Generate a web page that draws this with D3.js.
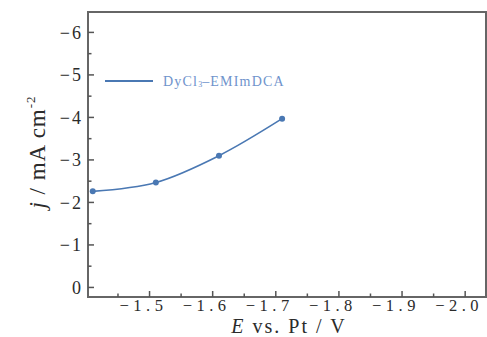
<!DOCTYPE html>
<html>
<head>
<meta charset="utf-8">
<script src="https://cdn.jsdelivr.net/npm/d3@7"></script>
<style>
  body { margin: 0; background: #fff; }
  text { font-family: "Liberation Serif", "DejaVu Serif", serif; fill: #2b2b2b; }
</style>
</head>
<body>
<div id="chart"></div>
<script>
// data
const potential = [-1.41, -1.51, -1.61, -1.71];
const currentDensity = [-2.26, -2.47, -3.10, -3.97];
const seriesName = "DyCl";
const xMajorTicks = [-1.5, -1.6, -1.7, -1.8, -1.9, -2.0];
const xMinorTicks = [-1.45, -1.55, -1.65, -1.75, -1.85, -1.95];
const yMajorTicks = [0, -1, -2, -3, -4, -5, -6];
const yMinorTicks = [-0.5, -1.5, -2.5, -3.5, -4.5, -5.5];

const width = 487, height = 337;
const margin = { left: 88, right: 1, top: 12, bottom: 40 };
const lineColor = "#4a78b3";
const minus = "\u2212";

const svg = d3.select("#chart")
  .append("svg")
    .attr("width", width)
    .attr("height", height);

const x = d3.scaleLinear([-1.4025, -2.033], [margin.left, width - margin.right]);
const y = d3.scaleLinear([0.225, -6.48], [height - margin.bottom, margin.top]);

// frame
svg.append("rect")
  .attr("x", margin.left)
  .attr("y", margin.top)
  .attr("width", width - margin.right - margin.left)
  .attr("height", height - margin.bottom - margin.top)
  .attr("fill", "none")
  .attr("stroke", "#666")
  .attr("stroke-width", 2);

// y ticks (inward)
const yTicks = svg.append("g").attr("class", "yTicks");
yTicks.selectAll("line.major")
  .data(yMajorTicks)
  .join("line")
    .attr("class", "major")
    .attr("x1", margin.left).attr("x2", margin.left + 6)
    .attr("y1", d => y(d)).attr("y2", d => y(d))
    .attr("stroke", "#555").attr("stroke-width", 1.5);
yTicks.selectAll("line.minor")
  .data(yMinorTicks)
  .join("line")
    .attr("class", "minor")
    .attr("x1", margin.left).attr("x2", margin.left + 3.5)
    .attr("y1", d => y(d)).attr("y2", d => y(d))
    .attr("stroke", "#555").attr("stroke-width", 1.5);
yTicks.selectAll("text")
  .data(yMajorTicks)
  .join("text")
    .attr("x", margin.left - 5)
    .attr("y", d => y(d))
    .attr("dy", "0.35em")
    .attr("text-anchor", "end")
    .attr("font-size", 18)
    .attr("letter-spacing", 2)
    .text(d => d === 0 ? "0" : minus + Math.abs(d));

// x ticks (inward)
const xTicks = svg.append("g").attr("class", "xTicks");
const y0 = height - margin.bottom;
xTicks.selectAll("line.major")
  .data(xMajorTicks)
  .join("line")
    .attr("class", "major")
    .attr("x1", d => x(d)).attr("x2", d => x(d))
    .attr("y1", y0).attr("y2", y0 - 6)
    .attr("stroke", "#555").attr("stroke-width", 1.5);
xTicks.selectAll("line.minor")
  .data(xMinorTicks)
  .join("line")
    .attr("class", "minor")
    .attr("x1", d => x(d)).attr("x2", d => x(d))
    .attr("y1", y0).attr("y2", y0 - 3.5)
    .attr("stroke", "#555").attr("stroke-width", 1.5);
xTicks.selectAll("text")
  .data(xMajorTicks)
  .join("text")
    .attr("x", d => x(d) - 6)
    .attr("y", y0 + 14)
    .attr("text-anchor", "middle")
    .attr("font-size", 16.5)
    .attr("letter-spacing", 4.5)
    .text(d => minus + Math.abs(d).toFixed(1));

// series
const points = d3.zip(potential, currentDensity);
const line = d3.line()
  .x(d => x(d[0]))
  .y(d => y(d[1]))
  .curve(d3.curveCatmullRom);

svg.append("path")
  .datum(points)
  .attr("d", line)
  .attr("fill", "none")
  .attr("stroke", lineColor)
  .attr("stroke-width", 1.6);

svg.append("g")
  .selectAll("circle")
  .data(points)
  .join("circle")
    .attr("cx", d => x(d[0]))
    .attr("cy", d => y(d[1]))
    .attr("r", 3)
    .attr("fill", lineColor);

// legend
const legend = svg.append("g").attr("transform", "translate(105, 81)");
legend.append("line")
  .attr("x1", 0).attr("x2", 48)
  .attr("stroke", lineColor)
  .attr("stroke-width", 1.8);
const lt = legend.append("text")
  .attr("x", 58)
  .attr("dy", "0.35em")
  .attr("font-size", 14)
  .attr("letter-spacing", 1.2)
  .style("fill", "#6f93cc");
lt.append("tspan").text(seriesName);
lt.append("tspan").attr("font-size", 8).attr("dy", 1).attr("letter-spacing", 0).text("3");
lt.append("tspan").attr("dy", -1).text("\u2013EMImDCA");

// axis titles
const xt = svg.append("text")
  .attr("x", 289)
  .attr("y", 333)
  .attr("text-anchor", "middle")
  .attr("font-size", 20)
  .attr("letter-spacing", 2);
xt.append("tspan").attr("font-style", "italic").text("E");
xt.append("tspan").text(" vs. Pt / V");

const yt = svg.append("text")
  .attr("transform", `translate(45, 152) rotate(-90)`)
  .attr("text-anchor", "middle")
  .attr("font-size", 23)
  .attr("letter-spacing", 1);
yt.append("tspan").attr("font-style", "italic").text("j");
yt.append("tspan").text(" / mA cm");
yt.append("tspan").attr("font-size", 13).attr("dy", -10).text("-2");
</script>
</body>
</html>
